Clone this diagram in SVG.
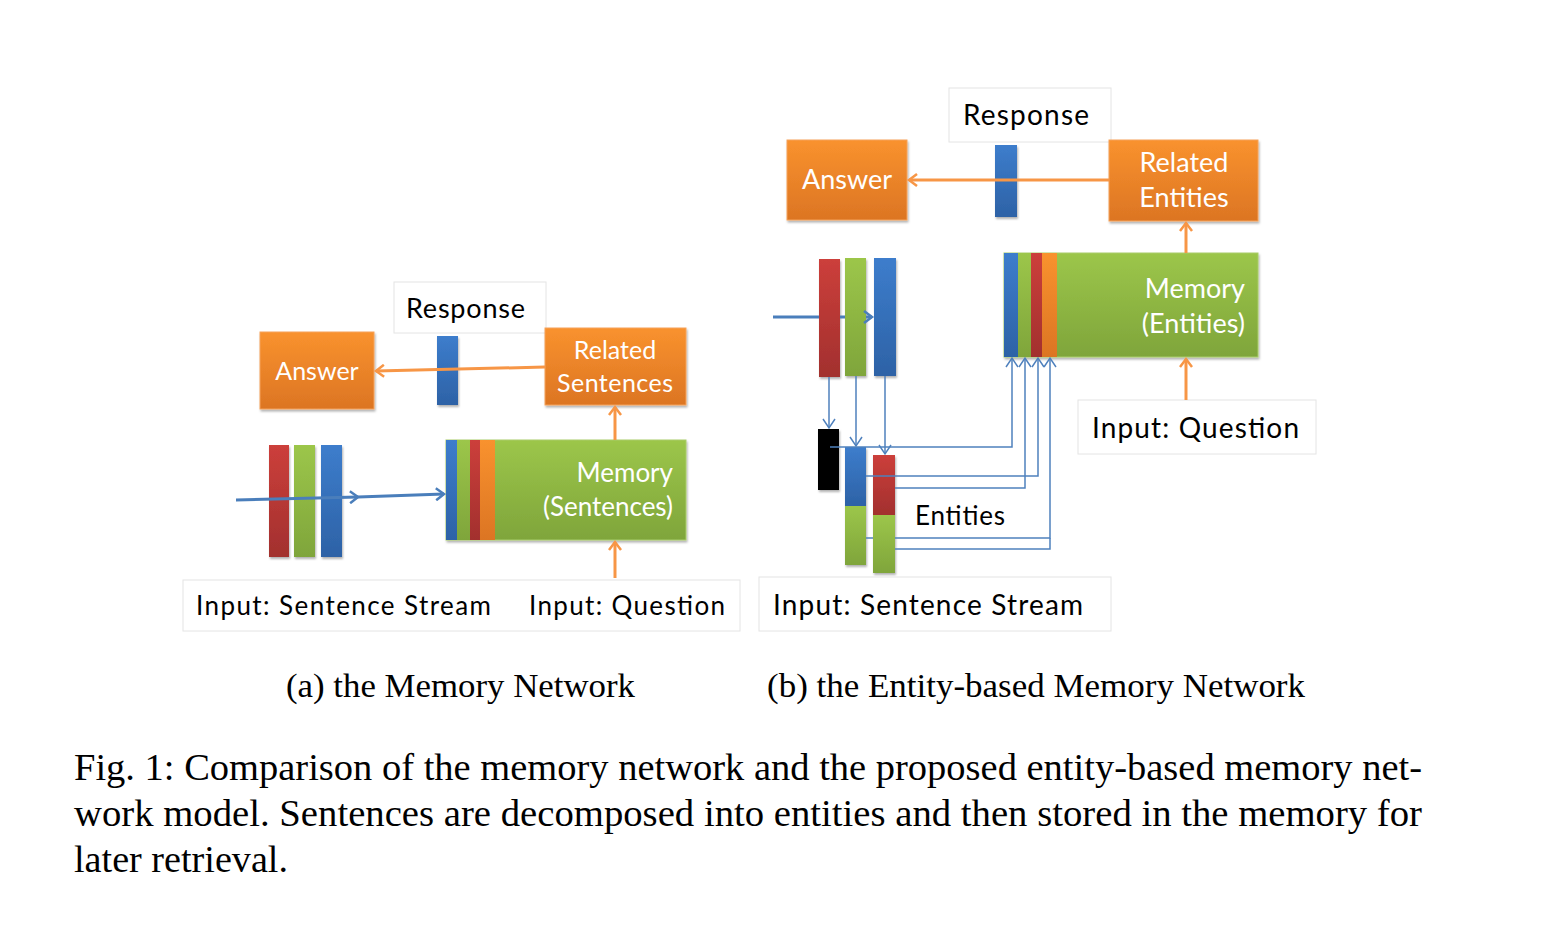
<svg xmlns="http://www.w3.org/2000/svg" width="1546" height="932" viewBox="0 0 1546 932">
<defs>
<linearGradient id="gOr" x1="0" y1="0" x2="0" y2="1"><stop offset="0" stop-color="#F9922E"/><stop offset="1" stop-color="#DC7523"/></linearGradient>
<linearGradient id="gGr" x1="0" y1="0" x2="0" y2="1"><stop offset="0" stop-color="#9CC64A"/><stop offset="1" stop-color="#7FA53B"/></linearGradient>
<linearGradient id="gRd" x1="0" y1="0" x2="0" y2="1"><stop offset="0" stop-color="#CC3F3B"/><stop offset="1" stop-color="#A2302E"/></linearGradient>
<linearGradient id="gBl" x1="0" y1="0" x2="0" y2="1"><stop offset="0" stop-color="#3D7DCC"/><stop offset="1" stop-color="#2D62A6"/></linearGradient>
<filter id="sh" x="-10%" y="-10%" width="130%" height="130%"><feDropShadow dx="1" dy="2" stdDeviation="1.2" flood-color="#000" flood-opacity="0.3"/></filter>
<marker id="aOr" markerWidth="14" markerHeight="14" refX="10" refY="7" orient="auto" markerUnits="userSpaceOnUse"><path d="M2,1 L10,7 L2,13" fill="none" stroke="#F79646" stroke-width="2.5"/></marker>
<marker id="aBl" markerWidth="14" markerHeight="14" refX="10" refY="7" orient="auto" markerUnits="userSpaceOnUse"><path d="M2,1 L10,7 L2,13" fill="none" stroke="#4A7EBB" stroke-width="2.5"/></marker>
<marker id="aTh" markerWidth="14" markerHeight="14" refX="11" refY="7" orient="auto" markerUnits="userSpaceOnUse"><path d="M2,1 L11,7 L2,13" fill="none" stroke="#4F81BD" stroke-width="1.5"/></marker>
</defs>
<style>
.lbl{font-family:Lato,"Open Sans",sans-serif;fill:#000}
.wht{font-family:Lato,"Open Sans",sans-serif;fill:#fff}
.box{fill:#fff;stroke:#E4E4E4;stroke-width:1}
.or{fill:url(#gOr);stroke:#F5A25A;stroke-width:1;filter:url(#sh)}
.gr{fill:url(#gGr);stroke:#A9CC6A;stroke-width:1;filter:url(#sh)}
.rd{fill:url(#gRd);filter:url(#sh)}
.gb{fill:url(#gGr);filter:url(#sh)}
.bl{fill:url(#gBl);filter:url(#sh)}
.ser{font-family:"Liberation Serif","Times New Roman",serif;fill:#000}
.ca{stroke:#F79646;stroke-width:3;fill:none}
.cb{stroke:#4A7EBB;stroke-width:3;fill:none}
.ct{stroke:#4F81BD;stroke-width:1.5;fill:none}
</style>
<rect width="1546" height="932" fill="#fff"/>

<!-- Panel A -->
<g id="a-response"><rect class="box" x="394" y="282" width="152" height="51"/><text class="lbl" x="406" y="318" font-size="27" textLength="119">Response</text></g>
<g id="a-answer"><rect class="or" x="260" y="332" width="114" height="77"/><text class="wht" x="317" y="380" font-size="25" text-anchor="middle">Answer</text></g>
<g id="a-resp-vec"><rect class="bl" x="437" y="336" width="21" height="69"/></g>
<g id="a-related"><rect class="or" x="545" y="328" width="141" height="77"/><text class="wht" x="615" y="359" font-size="25" text-anchor="middle">Related</text><text class="wht" x="615" y="392" font-size="25" text-anchor="middle" textLength="116">Sentences</text></g>
<g id="a-memory"><rect class="gr" x="446" y="440" width="240" height="100"/>
<rect x="446" y="440" width="11" height="100" fill="url(#gBl)"/><rect x="457" y="440" width="13" height="100" fill="url(#gGr)"/><rect x="470" y="440" width="10" height="100" fill="url(#gRd)"/><rect x="480" y="440" width="15" height="100" fill="url(#gOr)"/>
<text class="wht" x="673" y="482" font-size="26" text-anchor="end">Memory</text><text class="wht" x="673" y="516" font-size="26" text-anchor="end">(Sentences)</text></g>
<g id="a-sentences"><rect class="rd" x="269" y="445" width="20" height="112"/><rect class="gb" x="294" y="445" width="21" height="112"/><rect class="bl" x="321" y="445" width="21" height="112"/></g>
<g id="a-inputs"><rect class="box" x="183" y="580" width="557" height="51"/><text class="lbl" x="196" y="615" font-size="26" textLength="295">Input: Sentence Stream</text><text class="lbl" x="529" y="615" font-size="26" textLength="196">Input: Question</text></g>

<!-- Panel B -->
<g id="b-response"><rect class="box" x="949" y="88" width="162" height="54"/><text class="lbl" x="963" y="125" font-size="28" textLength="126">Response</text></g>
<g id="b-answer"><rect class="or" x="787" y="140" width="120" height="80"/><text class="wht" x="847" y="189" font-size="27" text-anchor="middle">Answer</text></g>
<g id="b-resp-vec"><rect class="bl" x="995" y="145" width="22" height="72"/></g>
<g id="b-related"><rect class="or" x="1109" y="140" width="149" height="81"/><text class="wht" x="1184" y="172" font-size="27" text-anchor="middle">Related</text><text class="wht" x="1184" y="207" font-size="27" text-anchor="middle">Entities</text></g>
<g id="b-memory"><rect class="gr" x="1004" y="253" width="254" height="104"/>
<rect x="1004" y="253" width="14" height="104" fill="url(#gBl)"/><rect x="1018" y="253" width="13" height="104" fill="url(#gGr)"/><rect x="1031" y="253" width="11" height="104" fill="url(#gRd)"/><rect x="1042" y="253" width="15" height="104" fill="url(#gOr)"/>
<text class="wht" x="1245" y="298" font-size="27" text-anchor="end">Memory</text><text class="wht" x="1245" y="333" font-size="27" text-anchor="end">(Entities)</text></g>
<g id="b-question"><rect class="box" x="1078" y="400" width="238" height="54"/><text class="lbl" x="1092" y="438" font-size="28" textLength="207">Input: Question</text></g>
<g id="b-sentences"><rect class="rd" x="819" y="259" width="21" height="118"/><rect class="gb" x="845" y="258" width="21" height="118"/><rect class="bl" x="874" y="258" width="22" height="118"/></g>
<g id="b-entities">
<rect x="818" y="429" width="21" height="61" fill="#000" filter="url(#sh)"/>
<g filter="url(#sh)"><rect x="845" y="447" width="21" height="59" fill="url(#gBl)"/><rect x="845" y="506" width="21" height="59" fill="url(#gGr)"/></g>
<g filter="url(#sh)"><rect x="873" y="455" width="22" height="60" fill="url(#gRd)"/><rect x="873" y="515" width="22" height="58" fill="url(#gGr)"/></g>
<text class="lbl" x="915" y="525" font-size="26" textLength="90">Entities</text></g>
<g id="b-stream"><rect class="box" x="759" y="577" width="352" height="54"/><text class="lbl" x="773" y="615" font-size="28" textLength="310">Input: Sentence Stream</text></g>

<g id="connectors">
<path class="ca" d="M545,367 L376,371" marker-end="url(#aOr)"/>
<path class="ca" d="M615,440 V407" marker-end="url(#aOr)"/>
<path class="ca" d="M615,578 V542" marker-end="url(#aOr)"/>
<path class="cb" d="M236,500 L358,497" marker-end="url(#aBl)"/>
<path class="cb" d="M358,497 L444,494" marker-end="url(#aBl)"/>
<path class="ca" d="M1109,180 H909" marker-end="url(#aOr)"/>
<path class="ca" d="M1186,253 V223" marker-end="url(#aOr)"/>
<path class="ca" d="M1186,400 V359" marker-end="url(#aOr)"/>
<path class="cb" d="M773,317 H819 M840,317 H845 M866,317 H872" marker-end="url(#aBl)"/>
<path class="ct" d="M829,377 V428" marker-end="url(#aTh)"/>
<path class="ct" d="M856,376 V446" marker-end="url(#aTh)"/>
<path class="ct" d="M885,376 V454" marker-end="url(#aTh)"/>
<path class="ct" d="M830,447 H1012 V358" marker-end="url(#aTh)"/>
<path class="ct" d="M866,476 H1038 V358" marker-end="url(#aTh)"/>
<path class="ct" d="M895,488 H1025 V358" marker-end="url(#aTh)"/>
<path class="ct" d="M866,538 H873 M895,538 H1050 V358" marker-end="url(#aTh)"/>
<path class="ct" d="M895,549 H1050 V538"/>
</g>

<g id="captions">
<text class="ser" x="286" y="697" font-size="33" textLength="349" lengthAdjust="spacingAndGlyphs">(a) the Memory Network</text>
<text class="ser" x="767" y="697" font-size="33" textLength="538" lengthAdjust="spacingAndGlyphs">(b) the Entity-based Memory Network</text>
<text class="ser" x="74" y="780" font-size="38" textLength="1348" lengthAdjust="spacingAndGlyphs">Fig. 1: Comparison of the memory network and the proposed entity-based memory net-</text>
<text class="ser" x="74" y="826" font-size="38" textLength="1348" lengthAdjust="spacingAndGlyphs">work model. Sentences are decomposed into entities and then stored in the memory for</text>
<text class="ser" x="74" y="872" font-size="38" textLength="214" lengthAdjust="spacingAndGlyphs">later retrieval.</text>
</g>
</svg>
